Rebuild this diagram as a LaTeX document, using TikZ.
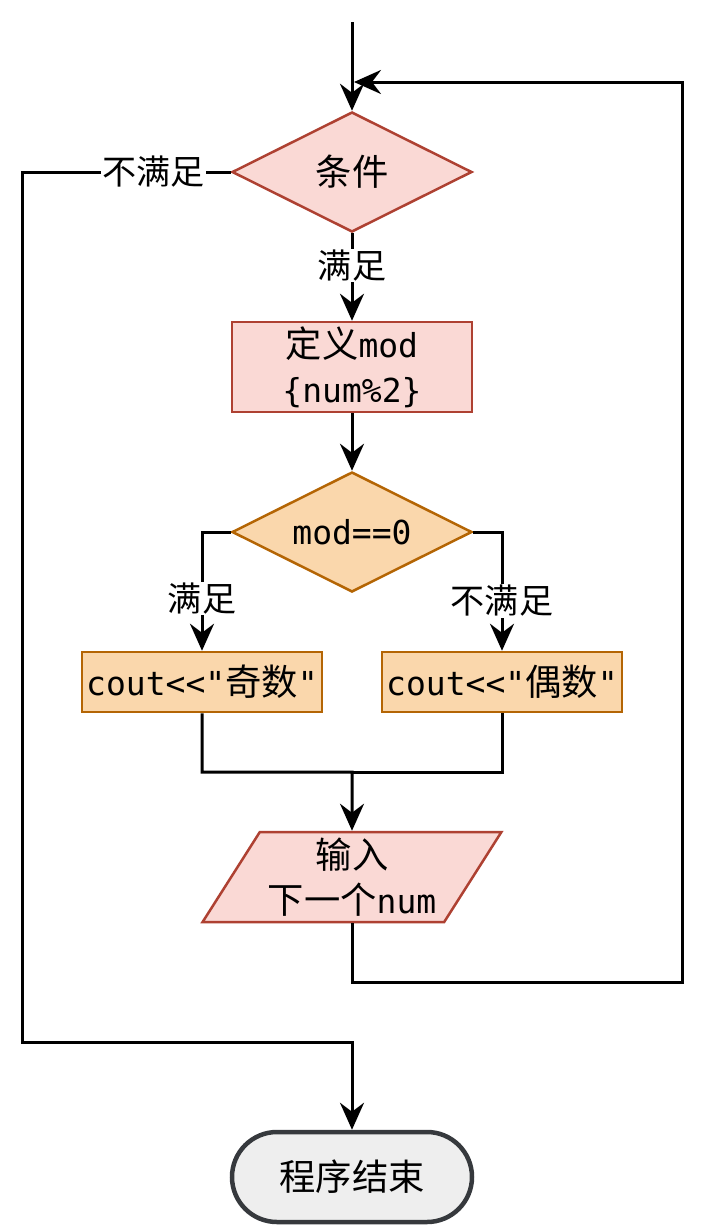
\documentclass[tikz,border=0pt]{standalone}
\usepackage{fontspec}
\setmainfont{DejaVu Sans Mono}[Ligatures=TeXOff]
\newfontfamily\zhfont[Scale=1.1]{Noto Sans CJK SC}
\newcommand{\zh}[1]{{\zhfont #1}}
\usetikzlibrary{shapes.geometric,arrows.meta}
\definecolor{pinkfill}{HTML}{FAD9D5}
\definecolor{pinkline}{HTML}{AE4132}
\definecolor{orangefill}{HTML}{FAD7AC}
\definecolor{orangeline}{HTML}{B46504}
\definecolor{greyfill}{HTML}{EEEEEE}
\definecolor{greyline}{HTML}{36393D}
\tikzset{
  pinkbox/.style={draw=pinkline,fill=pinkfill,line width=2.5pt},
  orangebox/.style={draw=orangeline,fill=orangefill,line width=2.5pt},
  decision/.style={diamond,aspect=2,inner sep=0pt,minimum width=240,minimum height=120},
  process/.style={rectangle,inner sep=0pt,minimum width=240,align=center},
  flow/.style={line width=3pt,-{Stealth[length=27pt,width=24pt,inset=9pt]}},
  line/.style={line width=3pt},
  lbl/.style={fill=white,inner sep=1pt,font=\fontsize{31}{36}\selectfont}
}
\begin{document}
\begin{tikzpicture}[x=1pt,y=-1pt,font=\fontsize{33}{45}\selectfont]
  \useasboundingbox (0,0) rectangle (708,1227);
  \draw
    (352,172) node[decision,pinkbox] (cond){\zh{条件}}
    (352,367) node[process,pinkbox,minimum height=90] (def){\zh{定义}mod\\\{num\%2\}}
    (352,532) node[decision,orangebox] (parity){mod==0}
    (202,682) node[process,orangebox,minimum height=60] (odd){cout<<"\zh{奇数}"}
    (502,682) node[process,orangebox,minimum height=60] (even){cout<<"\zh{偶数}"}
    (352,877) node[trapezium,trapezium left angle=56.31,trapezium right angle=123.69,
      trapezium stretches,inner sep=0pt,minimum width=300,minimum height=90,
      align=center,pinkbox] (input){\zh{输入}\\\zh{下一个}num}
    (352,1177) node[rectangle,rounded corners=45,minimum width=240,minimum height=90,
      draw=greyline,fill=greyfill,line width=4.5pt] (end){\zh{程序结束}};
  \coordinate (start) at (352,22);
  \coordinate (back) at (354,82);
  \coordinate (merge) at (352,772);
  \begin{scope}[flow]
    \draw (start) to (cond.north);
    \draw (cond.south) -- node[lbl,pos=0.37]{\zh{满足}} (def.north);
    \draw (def.south) to (parity.north);
    \draw (parity.west) -| node[lbl,pos=0.78]{\zh{满足}} (odd.north);
    \draw (parity.east) -| node[lbl,pos=0.79]{\zh{不满足}} (even.north);
    \draw (odd.south) |- (merge) -- (input.north);
    \draw (input.south) |- (682,982) |- (back);
    \draw (cond.west) -- node[lbl,pos=0.37]{\zh{不满足}} (22,172) |- (352,1042) -- (end.north);
  \end{scope}
  \draw[line] (even.south) |- (merge);
\end{tikzpicture}
\end{document}
